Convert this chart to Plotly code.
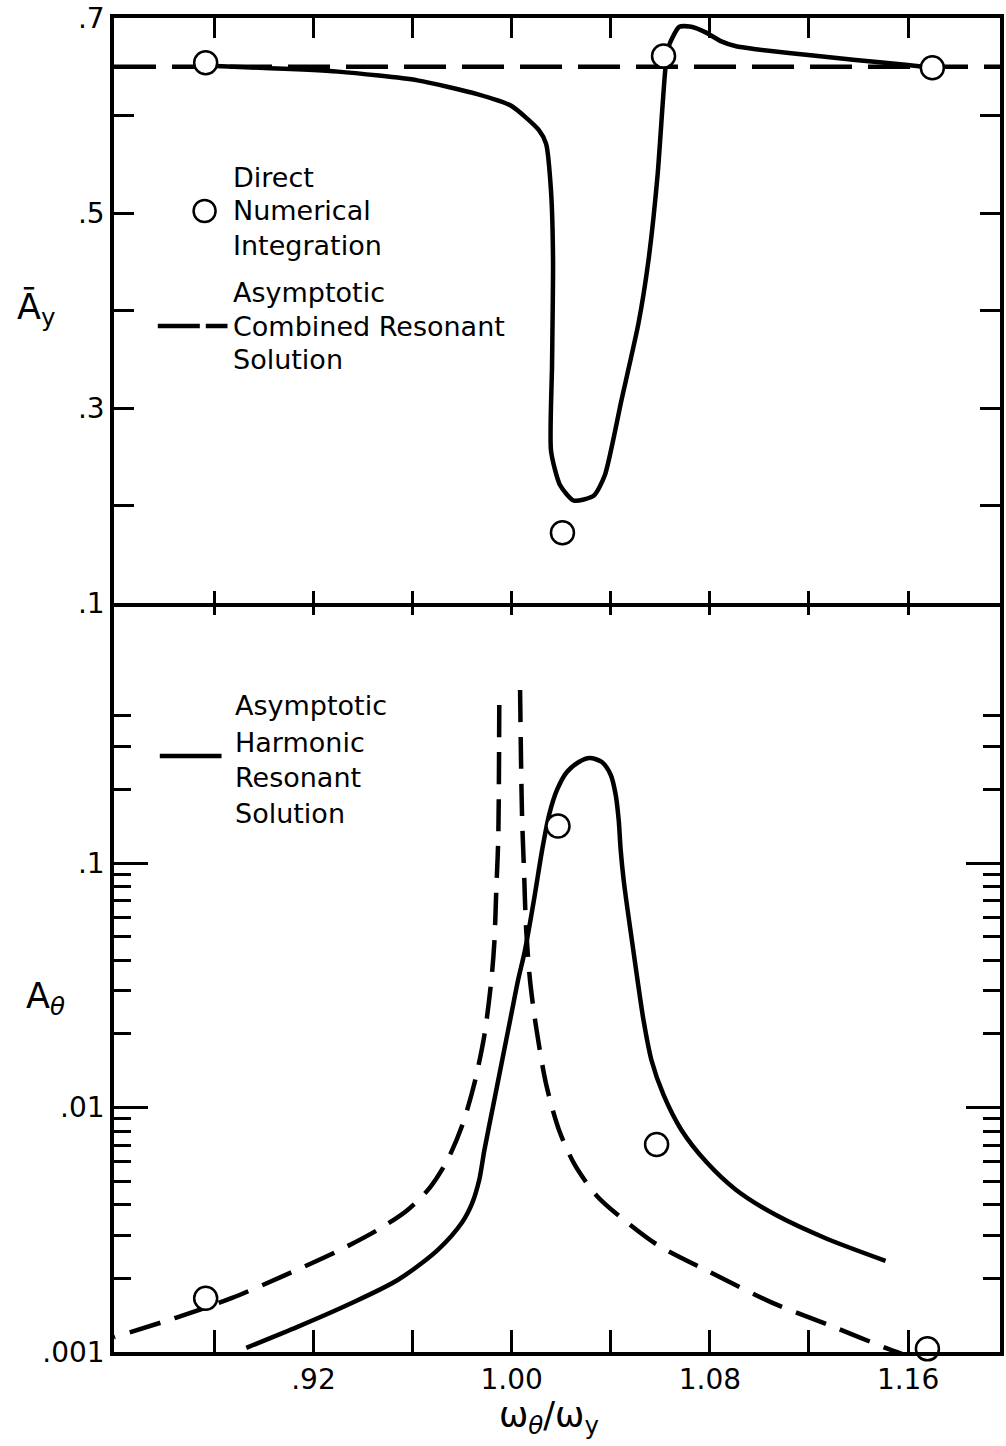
import plotly.graph_objects as go

# ---------------- data ----------------
# frequency ratio w_theta / w_y on the shared x axis

# upper panel: mean amplitude A_y
num_top_x = [0.8765, 1.0205, 1.0613, 1.1698]
num_top_y = [0.654, 0.172, 0.661, 0.649]

comb_top_x = [0.8395, 1.1971]
comb_top_y = [0.65, 0.65]

harm_top_x = [0.8777, 0.9299, 0.9620, 0.9861, 0.9998, 1.0110, 1.0139, 1.0159,
              1.0167, 1.0163, 1.0159, 1.0195, 1.0251, 1.0331, 1.0376, 1.0444,
              1.0512, 1.0552, 1.0589, 1.0609, 1.0621, 1.0637, 1.0677, 1.0725,
              1.0785, 1.0846, 1.0906, 1.0986, 1.1119, 1.1388, 1.1589, 1.1698]
harm_top_y = [0.651, 0.645, 0.636, 0.622, 0.610, 0.585, 0.571, 0.522,
              0.451, 0.344, 0.256, 0.221, 0.205, 0.210, 0.231, 0.309,
              0.387, 0.451, 0.539, 0.610, 0.649, 0.673, 0.691, 0.691,
              0.685, 0.676, 0.671, 0.668, 0.664, 0.657, 0.652, 0.649]

# lower panel: amplitude A_theta (log scale)
num_bot_x = [0.8765, 1.0187, 1.0585, 1.1678]
num_bot_y = [0.00166, 0.1416, 0.00706, 0.00103]

comb_left_x = [0.8395, 0.8644, 0.8869, 0.9070, 0.9299, 0.9460, 0.9580, 0.9669,
               0.9741, 0.9801, 0.9849, 0.9890, 0.9918, 0.9930, 0.9938, 0.9946,
               0.9950]
comb_left_y = [0.00115, 0.00138, 0.00166, 0.00203, 0.00259, 0.00316, 0.00381,
               0.00469, 0.00610, 0.00848, 0.01247, 0.01979, 0.0332, 0.0471,
               0.0776, 0.1277, 0.443]

comb_right_x = [1.0034, 1.0038, 1.0042, 1.0050, 1.0058, 1.0074, 1.0098, 1.0139,
                1.0191, 1.0255, 1.0344, 1.0464, 1.0589, 1.0793, 1.1046, 1.1280,
                1.1509, 1.1609]
comb_right_y = [0.510, 0.2564, 0.1542, 0.0919, 0.0547, 0.0332, 0.02154, 0.01247,
                0.00809, 0.00582, 0.00435, 0.00340, 0.00274, 0.00214, 0.00160,
                0.00129, 0.00104, 0.000954]

harm_bot_x = [0.8929, 0.9138, 0.9339, 0.9540, 0.9701, 0.9801, 0.9841, 0.9869,
              0.9890, 0.9926, 0.9962, 0.9998, 1.0026, 1.0054, 1.0090, 1.0123,
              1.0151, 1.0183, 1.0223, 1.0271, 1.0315, 1.0364, 1.0400, 1.0420,
              1.0432, 1.0440, 1.0452, 1.0468, 1.0488, 1.0508, 1.0532, 1.0564,
              1.0613, 1.0685, 1.0786, 1.0906, 1.1067, 1.1267, 1.1509]
harm_bot_y = [0.00104, 0.00127, 0.00156, 0.00197, 0.00261, 0.00340, 0.00407,
              0.00505, 0.00670, 0.01024, 0.01564, 0.02389, 0.0332, 0.0441,
              0.0706, 0.1130, 0.1571, 0.1989, 0.2356, 0.2588, 0.2687, 0.2588,
              0.2291, 0.1897, 0.1499, 0.1130, 0.0852, 0.0642, 0.0462, 0.0332,
              0.0228, 0.01564, 0.01125, 0.00809, 0.00598, 0.00460, 0.00363,
              0.00292, 0.00236]

# axis ticks
x_tickvals = [0.92, 1.00, 1.08, 1.16]
x_ticktext = [".92", "1.00", "1.08", "1.16"]
x_minorvals = [0.88, 0.96, 1.04, 1.12]
top_tickvals = [0.1, 0.3, 0.5, 0.7]
top_ticktext = [".1", ".3", ".5", ".7"]
top_minorvals = [0.2, 0.4, 0.6]
bot_tickvals = [0.001, 0.01, 0.1]
bot_ticktext = [".001", ".01", ".1"]
bot_minorvals = [0.002, 0.003, 0.004, 0.005, 0.006, 0.007, 0.008, 0.009,
                 0.02, 0.03, 0.04, 0.05, 0.06, 0.07, 0.08, 0.09,
                 0.2, 0.3, 0.4]

# ---------------- layout geometry ----------------
W, H = 1006, 1446
ML, MR, MT, MB = 114, 2, 18, 94
PW, PH = W - ML - MR, H - MT - MB
X_RANGE = [0.8395, 1.1971]
SPLIT = (H - MB - 603) / PH      # boundary between the two panels


def px_x(px):
    return (px - ML) / PW


def px_y(py):
    return (H - MB - py) / PH


FONT = "DejaVu Sans"
INK = "black"
LW = 4.5
AXW = 3.5
SMOOTH = 0.8

fig = go.Figure()

# upper panel
fig.add_trace(go.Scatter(x=comb_top_x, y=comb_top_y, xaxis="x2", yaxis="y2",
                         mode="lines", line=dict(color=INK, width=LW, dash="42px,16px"),
                         showlegend=False))
fig.add_trace(go.Scatter(x=harm_top_x, y=harm_top_y, xaxis="x2", yaxis="y2",
                         mode="lines",
                         line=dict(color=INK, width=LW, shape="spline", smoothing=0.6),
                         showlegend=False))
fig.add_trace(go.Scatter(x=num_top_x, y=num_top_y, xaxis="x2", yaxis="y2",
                         mode="markers", cliponaxis=False,
                         marker=dict(symbol="circle", size=23, color="white",
                                     line=dict(color=INK, width=2.5)),
                         showlegend=False))

# lower panel: both branches of the combined-resonance curve are traced
# downward from the resonance so the dashes start at the top
for cx, cy in ((comb_left_x[::-1], comb_left_y[::-1]), (comb_right_x, comb_right_y)):
    fig.add_trace(go.Scatter(x=cx, y=cy, xaxis="x", yaxis="y", mode="lines",
                             line=dict(color=INK, width=LW, dash="32px,15px",
                                       shape="spline", smoothing=SMOOTH),
                             showlegend=False))
fig.add_trace(go.Scatter(x=harm_bot_x, y=harm_bot_y, xaxis="x", yaxis="y",
                         mode="lines",
                         line=dict(color=INK, width=LW, shape="spline", smoothing=SMOOTH),
                         showlegend=False))
fig.add_trace(go.Scatter(x=num_bot_x, y=num_bot_y, xaxis="x", yaxis="y",
                         mode="markers", cliponaxis=False,
                         marker=dict(symbol="circle", size=23, color="white",
                                     line=dict(color=INK, width=2.5)),
                         showlegend=False))

# empty traces so the short boundary tick axes are drawn
fig.add_trace(go.Scatter(x=[], y=[], xaxis="x3", yaxis="y2", showlegend=False))
fig.add_trace(go.Scatter(x=[], y=[], xaxis="x4", yaxis="y", showlegend=False))

tickfont = dict(family=FONT, size=28, color=INK)


def x_axis(ticklen, **kw):
    return dict(range=X_RANGE, tickvals=x_tickvals, showgrid=False, zeroline=False,
                ticks="inside", ticklen=ticklen, tickcolor=INK, tickwidth=2.5,
                linecolor=INK, linewidth=AXW,
                minor=dict(tickvals=x_minorvals, ticks="inside", ticklen=ticklen,
                           tickwidth=2.5, tickcolor=INK, showgrid=False),
                **kw)


fig.update_layout(
    width=W, height=H,
    margin=dict(l=ML, r=MR, t=MT, b=MB),
    paper_bgcolor="white", plot_bgcolor="white",
    showlegend=False,
    xaxis=x_axis(22, anchor="y", side="bottom", ticktext=x_ticktext, tickfont=tickfont,
                 showline=True, mirror=False),
    xaxis2=x_axis(20, anchor="y2", side="top", showticklabels=False,
                  showline=True, mirror=True),
    xaxis3=x_axis(12, anchor="y2", overlaying="x2", side="bottom",
                  showticklabels=False, showline=False),
    xaxis4=x_axis(12, anchor="y", overlaying="x", side="top",
                  showticklabels=False, showline=False),
    yaxis=dict(domain=[0, SPLIT], type="log", range=[-3, 0.0634],
               tickvals=bot_tickvals, ticktext=bot_ticktext, tickfont=tickfont,
               ticks="inside", ticklen=34, tickwidth=2.5, tickcolor=INK,
               minor=dict(tickvals=bot_minorvals, ticks="inside", ticklen=17,
                          tickwidth=2.5, tickcolor=INK, showgrid=False),
               showline=True, linecolor=INK, linewidth=AXW, mirror="ticks",
               showgrid=False, zeroline=False),
    yaxis2=dict(domain=[SPLIT, 1], range=[0.1, 0.7],
                tickvals=top_tickvals, ticktext=top_ticktext, tickfont=tickfont,
                ticks="inside", ticklen=20, tickwidth=2.5, tickcolor=INK,
                minor=dict(tickvals=top_minorvals, ticks="inside", ticklen=20,
                           tickwidth=2.5, tickcolor=INK, showgrid=False),
                showline=True, linecolor=INK, linewidth=AXW, mirror="ticks",
                showgrid=False, zeroline=False),
)

# axis titles
title_font = dict(family=FONT, size=35, color=INK)
for txt, tx, ty in (("Ā<sub>y</sub>", 36, 310),
                    ("A<sub><i>θ</i></sub>", 45, 998),
                    ("ω<sub><i>θ</i></sub>/ω<sub>y</sub>", 551, 1418)):
    fig.add_annotation(text=txt, x=px_x(tx), y=px_y(ty), xref="paper", yref="paper",
                       xanchor="center", yanchor="middle", showarrow=False,
                       font=title_font)

# key texts
key_font = dict(family=FONT, size=27, color=INK)
key_lines = [
    ("Direct", 232, 177), ("Numerical", 232, 211), ("Integration", 232, 245),
    ("Asymptotic", 232, 293), ("Combined Resonant", 232, 326), ("Solution", 232, 359),
    ("Asymptotic", 234, 706), ("Harmonic", 234, 742), ("Resonant", 234, 777),
    ("Solution", 234, 813),
]
for txt, kx, ky in key_lines:
    fig.add_annotation(text=txt, x=px_x(kx), y=px_y(ky), xref="paper", yref="paper",
                       xanchor="left", yanchor="middle", showarrow=False, font=key_font)

# key symbols
fig.add_shape(type="circle", xref="paper", yref="paper",
              xsizemode="pixel", ysizemode="pixel",
              xanchor=px_x(205), yanchor=px_y(211), x0=-11, x1=11, y0=-11, y1=11,
              line=dict(color=INK, width=2.5), fillcolor="white")
fig.add_shape(type="line", xref="paper", yref="paper",
              x0=px_x(158), x1=px_x(228), y0=px_y(326), y1=px_y(326),
              line=dict(color=INK, width=LW, dash="42px,6px"))
fig.add_shape(type="line", xref="paper", yref="paper",
              x0=px_x(160), x1=px_x(222), y0=px_y(756), y1=px_y(756),
              line=dict(color=INK, width=LW))

fig.write_html("out.html")
